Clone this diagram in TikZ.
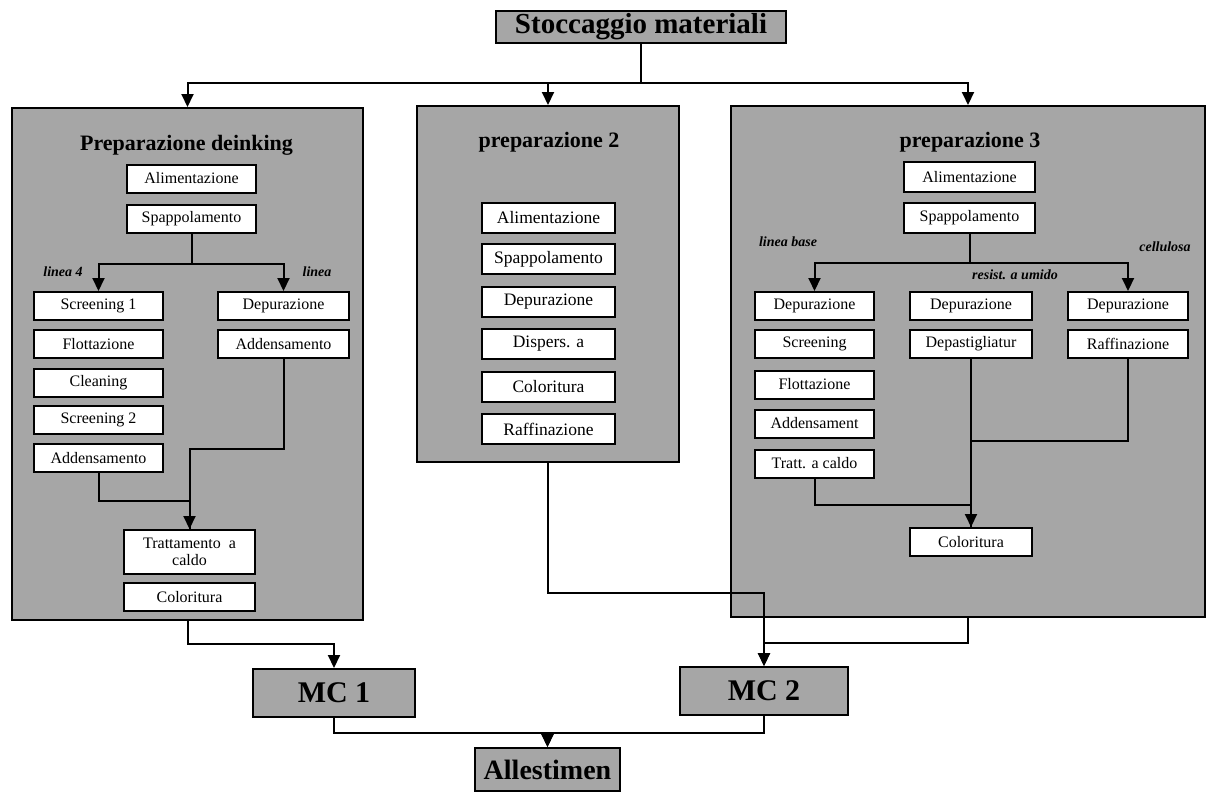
\documentclass[tikz,border=0pt]{standalone}
\usepackage{fontspec}
\setmainfont{Liberation Serif}
\usetikzlibrary{arrows.meta}

\begin{document}
\begin{tikzpicture}[x=1pt,y=-1pt,
    panel/.style={draw, line width=2pt, fill=black!35, inner sep=0pt},
    bigbox/.style={draw, line width=2pt, fill=black!35, inner sep=0pt,
        font=\bfseries\fontsize{28}{30}\selectfont},
    stepbox/.style={draw, line width=2pt, fill=white, inner sep=0pt,
        minimum width=129pt, minimum height=28pt, font=\fontsize{16}{17}\selectfont},
    midbox/.style={stepbox, minimum width=133pt, minimum height=30pt,
        font=\fontsize{17.5}{19}\selectfont},
    title/.style={font=\bfseries\fontsize{22}{24}\selectfont},
    branch/.style={font=\bfseries\itshape\fontsize{14}{16}\selectfont},
    link/.style={line width=2pt},
    arr/.style={line width=2pt, -{Triangle[length=13pt,width=12pt]}}]
    \useasboundingbox (0,0) rectangle (1207,793);

    % panels
    \node[panel, minimum width=351pt, minimum height=512pt] (prepA) at (187.5,364) {};
    \node[panel, minimum width=262pt, minimum height=356pt] (prepB) at (548,284) {};
    \node[panel, minimum width=474pt, minimum height=511pt] (prepC) at (968,361.5) {};

    \node[bigbox, minimum width=290pt, minimum height=32pt, font=\bfseries\fontsize{29}{30}\selectfont] (stock) at (641,27) {Stoccaggio materiali};
    \node[bigbox, minimum width=162pt, minimum height=48pt, font=\bfseries\fontsize{30}{32}\selectfont] (mc1) at (334,693) {MC 1};
    \node[bigbox, minimum width=168pt, minimum height=48pt, font=\bfseries\fontsize{30}{32}\selectfont] (mc2) at (764,691) {MC 2};
    \node[bigbox, minimum width=145pt, minimum height=43pt] (alles) at (547.5,769.5) {Allestimen};

    \node[title] (titA) at (186.5,145) {Preparazione deinking};
    \node[title] (titB) at (549,142) {preparazione 2};
    \node[title] (titC) at (970,142) {preparazione 3};

    % deinking
    \node[stepbox] (aliA) at (191.5,178.5) {Alimentazione};
    \node[stepbox] (spapA) at (191.5,218.5) {Spappolamento};
    \node[stepbox] (scr1) at (98.5,306) {Screening 1};
    \node[stepbox] (flotA) at (98.5,344) {Flottazione};
    \node[stepbox] (cleanA) at (98.5,383) {Cleaning};
    \node[stepbox] (scr2) at (98.5,419.5) {Screening 2};
    \node[stepbox] (addA1) at (98.5,458) {Addensamento};
    \node[stepbox, minimum width=131pt] (depA) at (283.5,306) {Depurazione};
    \node[stepbox, minimum width=131pt] (addA2) at (283.5,344) {Addensamento};
    \node[stepbox, minimum width=131pt, minimum height=44pt, align=center] (tratt) at (189.5,552) {Trattamento\ \ a\\caldo};
    \node[stepbox, minimum width=131pt] (colA) at (189.5,597) {Coloritura};
    \node[branch] (linA1) at (63,272) {linea 4};
    \node[branch] (linA2) at (317,272) {linea};

    % preparazione 2
    \node[midbox] (aliB) at (548.5,217.5) {Alimentazione};
    \node[midbox] (spapB) at (548.5,259) {Spappolamento};
    \node[midbox] (depB) at (548.5,302) {Depurazione};
    \node[midbox] (dispB) at (548.5,344) {Dispers. a};
    \node[midbox] (colB) at (548.5,387) {Coloritura};
    \node[midbox] (rafB) at (548.5,429) {Raffinazione};

    % preparazione 3
    \node[stepbox, minimum width=131pt, minimum height=30pt] (aliC) at (969.5,177) {Alimentazione};
    \node[stepbox, minimum width=131pt, minimum height=30pt] (spapC) at (969.5,218) {Spappolamento};
    \node[stepbox, minimum width=119pt] (depC1) at (814.5,306) {Depurazione};
    \node[stepbox, minimum width=119pt] (scrC) at (814.5,344) {Screening};
    \node[stepbox, minimum width=119pt] (flotC) at (814.5,384.5) {Flottazione};
    \node[stepbox, minimum width=119pt] (addC) at (814.5,423.5) {Addensament};
    \node[stepbox, minimum width=119pt] (trC) at (814.5,463.5) {Tratt. a caldo};
    \node[stepbox, minimum width=122pt] (depC2) at (971,306) {Depurazione};
    \node[stepbox, minimum width=122pt] (depast) at (971,344) {Depastigliatur};
    \node[stepbox, minimum width=120pt] (depC3) at (1128,306) {Depurazione};
    \node[stepbox, minimum width=120pt] (rafC) at (1128,344) {Raffinazione};
    \node[stepbox, minimum width=122pt] (colC) at (971,542) {Coloritura};
    \node[branch] (linC1) at (788,242) {linea base};
    \node[branch] (linC2) at (1015,275) {resist. a umido};
    \node[branch] (linC3) at (1165,247) {cellulosa};

    % connectors
    \draw[link] (stock.south) -- ++(0,39) coordinate (split);
    \draw[arr] (split) -| (prepA.north);
    \draw[arr] (split) -| (prepB.north);
    \draw[arr] (split) -| (prepC.north);

    \draw[link] (spapA.south) -- ++(0,30) coordinate (brA);
    \draw[arr] (brA) -| (scr1.north);
    \draw[arr] (brA) -| (depA.north);
    \draw[arr] (addA2.south) -- ++(0,90) -| (tratt.north);
    \draw[link] (addA1.south) -- ++(0,28) -| (tratt.north);

    \draw[link] (spapC.south) -- ++(0,29) coordinate (brC);
    \draw[arr] (brC) -| (depC1.north);
    \draw[arr] (brC) -| (depC3.north);
    \draw[link] (trC.south) -- ++(0,26) -| (colC.north);
    \draw[link] (rafC.south) -- ++(0,82) -| (colC.north);
    \draw[arr] (depast.south) -- (colC.north);

    \draw[arr] (prepA.south) -- ++(0,23) -| (mc1.north);
    \draw[arr] (prepB.south) -- ++(0,130) -| (mc2.north);
    \draw[arr] (prepC.south) -- ++(0,25) -| (mc2.north);
    \draw[arr] (mc1.south) -- ++(0,15) -| (alles.north);
    \draw[arr] (mc2.south) -- ++(0,17) -| (alles.north);
\end{tikzpicture}
\end{document}
